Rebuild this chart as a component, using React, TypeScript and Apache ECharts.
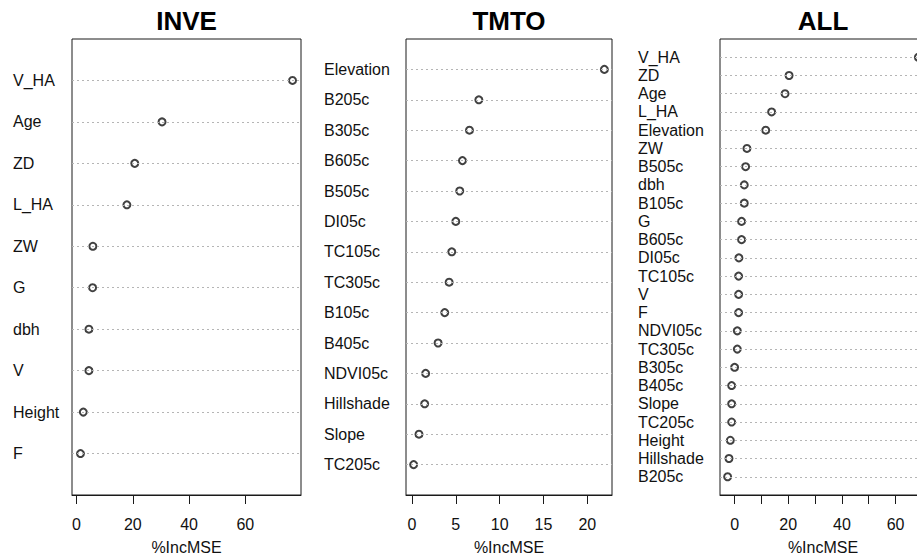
import React, { useEffect, useRef } from "react";
import * as echarts from "echarts";

const inveNames = ["V_HA", "Age", "ZD", "L_HA", "ZW", "G", "dbh", "V", "Height", "F"];
const inveValues = [76.8, 30.4, 20.7, 17.9, 5.8, 5.7, 4.4, 4.4, 2.4, 1.4];
const inveTicks = [0, 20, 40, 60];
const inveLabels = [0, 20, 40, 60];

const tmtoNames = ["Elevation", "B205c", "B305c", "B605c", "B505c", "DI05c", "TC105c", "TC305c", "B105c", "B405c", "NDVI05c", "Hillshade", "Slope", "TC205c"];
const tmtoValues = [21.95, 7.63, 6.56, 5.76, 5.45, 5.0, 4.54, 4.24, 3.74, 2.98, 1.56, 1.45, 0.8, 0.19];
const tmtoTicks = [0, 5, 10, 15, 20];
const tmtoLabels = [0, 5, 10, 15, 20];

const allNames = ["V_HA", "ZD", "Age", "L_HA", "Elevation", "ZW", "B505c", "dbh", "B105c", "G", "B605c", "DI05c", "TC105c", "V", "F", "NDVI05c", "TC305c", "B305c", "B405c", "Slope", "TC205c", "Height", "Hillshade", "B205c"];
const allValues = [68.5, 20.3, 18.8, 13.8, 11.6, 4.6, 4.1, 3.6, 3.6, 2.6, 2.6, 1.6, 1.5, 1.5, 1.5, 1.0, 1.0, 0, -1.1, -1.1, -1.1, -1.6, -2.1, -2.6];
const allTicks = [0, 10, 20, 30, 40, 50, 60, 70];
const allLabels = [0, 20, 40, 60];

const titles = ["INVE", "TMTO", "ALL"];
const axisName = "%IncMSE";

const FONT = "'Liberation Sans', Arial, sans-serif";

export default function App() {
  const ref = useRef<HTMLDivElement>(null);
  useEffect(() => {
    if (!ref.current) return;
    const chart = echarts.init(ref.current, null, { renderer: "svg" });

    const panels = [
      { names: inveNames, values: inveValues, ticks: inveTicks, labels: inveLabels, left: 72, width: 229, height: 458, labelMargin: 59 },
      { names: tmtoNames, values: tmtoValues, ticks: tmtoTicks, labels: tmtoLabels, left: 406, width: 206, height: 459, labelMargin: 82 },
      { names: allNames, values: allValues, ticks: allTicks, labels: allLabels, left: 720, width: 206, height: 458, labelMargin: 82 },
    ];

    const grids: any[] = [];
    const xAxes: any[] = [];
    const yAxes: any[] = [];
    const series: any[] = [];
    const graphics: any[] = [];

    panels.forEach((p, k) => {
      const lo = Math.min(...p.values);
      const hi = Math.max(...p.values);
      const pad = (hi - lo) * 0.04;
      grids.push({
        left: p.left,
        top: 39,
        width: p.width,
        height: p.height,
        show: true,
        borderColor: "#1a1a1a",
        borderWidth: 1,
        backgroundColor: "transparent",
      });
      xAxes.push({
        type: "value",
        gridIndex: k,
        position: "bottom",
        min: lo - pad,
        max: hi + pad,
        axisLine: { show: true, onZero: false, lineStyle: { color: "#1a1a1a", width: 1 } },
        splitLine: { show: false },
        axisTick: { show: true, inside: false, customValues: p.ticks, length: 9, lineStyle: { color: "#1a1a1a", width: 1 } },
        axisLabel: {
          show: true,
          customValues: p.labels,
          margin: 21,
          color: "#111",
          fontSize: 16,
          fontFamily: FONT,
        },
        name: axisName,
        nameLocation: "middle",
        nameGap: 52,
        nameTextStyle: { color: "#111", fontSize: 16, fontFamily: FONT, verticalAlign: "middle" },
      });
      yAxes.push({
        type: "value",
        gridIndex: k,
        min: 0,
        max: p.names.length + 1,
        inverse: true,
        axisLine: { show: false, onZero: false },
        axisTick: { show: false },
        splitLine: { show: false },
        axisLabel: {
          show: true,
          customValues: p.names.map((_, i) => i + 1),
          formatter: (v: number) => p.names[Math.round(v) - 1] ?? "",
          align: "left",
          margin: p.labelMargin,
          color: "#111",
          fontSize: 16,
          fontFamily: FONT,
        },
      });
      series.push({
        type: "scatter",
        xAxisIndex: k,
        yAxisIndex: k,
        symbol: "emptyCircle",
        symbolSize: 7,
        itemStyle: { color: "#111", borderColor: "#111", borderWidth: 1.3 },
        data: p.values.map((v, i) => [v, i + 1]),
        markLine: {
          silent: true,
          symbol: "none",
          label: { show: false },
          lineStyle: { type: [2, 3], color: "#b5b5b5", width: 1 },
          data: p.names.map((_, i) => ({ yAxis: i + 1 })),
        },
        z: 3,
      });
      graphics.push({
        type: "text",
        x: p.left + p.width / 2,
        y: 21,
        style: {
          text: titles[k],
          fill: "#000",
          font: `bold 26px ${FONT}`,
          textAlign: "center",
          textVerticalAlign: "middle",
        },
      });
    });

    chart.setOption({
      animation: false,
      backgroundColor: "#fff",
      grid: grids,
      xAxis: xAxes,
      yAxis: yAxes,
      series,
      graphic: graphics,
    });
    return () => chart.dispose();
  }, []);
  return <div ref={ref} style={{ position: "fixed", left: 0, top: 0, width: 940, height: 560 }} />;
}
